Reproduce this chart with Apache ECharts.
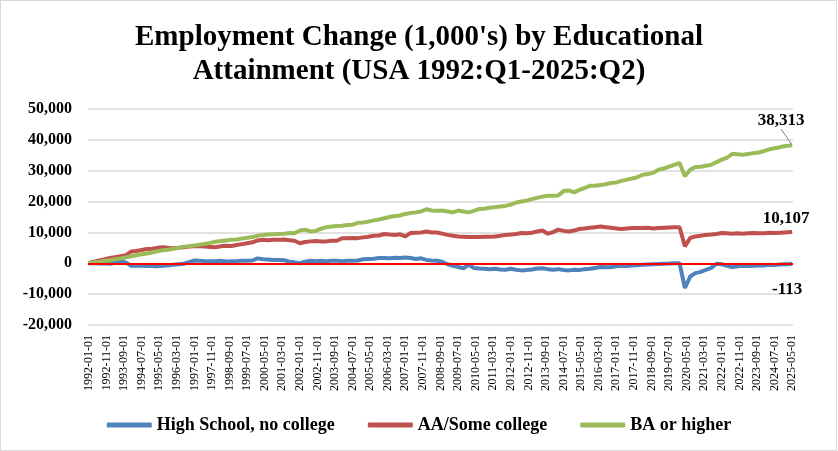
<!DOCTYPE html>
<html>
<head>
<meta charset="utf-8">
<script src="https://cdn.jsdelivr.net/npm/echarts@6/dist/echarts.min.js"></script>
<style>
  html, body { margin: 0; padding: 0; background: #fff; }
  #frame { position: absolute; left: 0; top: 0; width: 837px; height: 451px; box-sizing: border-box; border: 1.5px solid #d9d9d9; pointer-events: none; }
  #chart { position: absolute; left: 0; top: 0; width: 838px; height: 451px; }
</style>
</head>
<body>
<div id="chart"></div>
<div id="frame"></div>
<script>
// ---- Data (employment change, 1,000's), quarterly samples Jan/Apr/Jul/Oct 1992 - 2025, final point 2025-05 ----
const firstYear = 1992;
const lastYear = 2025;
const lastMonth = 5;
const seriesNames = ['High School, no college', 'AA/Some college', 'BA or higher'];

const highSchool = [
  0, 100, -100, 0,
  -150, 200, 600, 300,
  -800, -700, -800, -900,
  -900, -1000, -800, -700,
  -500, -300, -150, 400,
  900, 800, 700, 700,
  700, 800, 600, 700,
  700, 800, 800, 900,
  1600, 1300, 1200, 1100,
  1100, 1000, 500, 300,
  0, 500, 800, 700,
  800, 700, 800, 800,
  700, 800, 800, 900,
  1300, 1400, 1500, 1700,
  1700, 1600, 1800, 1700,
  1900, 1700, 1400, 1600,
  1100, 900, 800, 500,
  -300, -800, -1200, -1600,
  -500, -1500, -1700, -1800,
  -1900, -1800, -2000, -2100,
  -1800, -2100, -2300, -2200,
  -2000, -1700, -1600, -1900,
  -2100, -1900, -2200, -2300,
  -2100, -2200, -1900, -1800,
  -1500, -1200, -1300, -1250,
  -1000, -800, -900, -700,
  -600, -500, -400, -300,
  -200, -150, -100, 0,
  0, -8000, -4300, -3200,
  -2800, -2100, -1500, -150,
  -300, -800, -1250, -1000,
  -800, -900, -800, -700,
  -700, -500, -600, -400,
  -300, -200, -113
];

const someCollege = [
  0, 500, 900, 1300,
  1700, 2000, 2300, 2600,
  3800, 4000, 4300, 4600,
  4700, 5000, 5200, 5000,
  4900, 5000, 5200, 5400,
  5500, 5600, 5400, 5300,
  5200, 5500, 5700, 5600,
  5900, 6200, 6500, 6800,
  7400, 7600, 7500, 7600,
  7600, 7700, 7500, 7300,
  6500, 6900, 7100, 7200,
  7100, 7100, 7300, 7300,
  8100, 8100, 8200, 8150,
  8400, 8600, 8900, 9000,
  9500, 9300, 9200, 9400,
  8700, 9800, 9900, 10000,
  10300, 10000, 10000, 9600,
  9200, 8900, 8700, 8600,
  8500, 8500, 8500, 8600,
  8600, 8700, 8900, 9200,
  9300, 9500, 9800, 9700,
  9900, 10300, 10600, 9600,
  10100, 10900, 10500, 10300,
  10600, 11100, 11300, 11500,
  11700, 11900, 11700, 11500,
  11300, 11100, 11300, 11400,
  11400, 11400, 11500, 11300,
  11400, 11500, 11600, 11700,
  11700, 5500, 8200, 8700,
  8900, 9200, 9300, 9500,
  9800, 9700, 9600, 9700,
  9600, 9700, 9800, 9700,
  9700, 9900, 9800, 9900,
  10000, 10100, 10107
];

const baOrHigher = [
  0, 300, 500, 800,
  1000, 1300, 1600, 1900,
  2300, 2600, 2900, 3200,
  3500, 3900, 4200, 4400,
  4700, 5000, 5400, 5500,
  5800, 6000, 6300, 6600,
  7000, 7200, 7400, 7600,
  7700, 8000, 8300, 8500,
  8900, 9200, 9300, 9400,
  9500, 9600, 9800, 9700,
  10600, 10900, 10300, 10500,
  11200, 11700, 11900, 12100,
  12200, 12400, 12500, 13100,
  13200, 13500, 13900, 14200,
  14600, 15000, 15300, 15500,
  16000, 16300, 16500, 16800,
  17500, 17100, 17000, 17100,
  16800, 16500, 17100, 16800,
  16500, 17000, 17600, 17700,
  18000, 18200, 18400, 18600,
  19000, 19700, 20000, 20300,
  20800, 21200, 21600, 21900,
  21900, 22000, 23400, 23600,
  23000, 23800, 24400, 25100,
  25100, 25400, 25600, 26000,
  26200, 26700, 27100, 27500,
  27900, 28700, 28900, 29300,
  30300, 30700, 31300, 31900,
  32500, 28200, 30300, 31200,
  31300, 31600, 31900, 32800,
  33600, 34200, 35500, 35300,
  35200, 35400, 35700, 35900,
  36400, 36900, 37300, 37600,
  38000, 38200, 38313
];

const yTicks = { min: -20000, max: 50000, interval: 10000 };

// ---- Month categories (tick labels) ----
const months = [];
for (let y = firstYear; y <= lastYear; y++) {
  for (let m = 1; m <= 12; m++) {
    if (y === lastYear && m > lastMonth) break;
    months.push(y + '-' + String(m).padStart(2, '0') + '-01');
  }
}
// sample positions: Jan/Apr/Jul/Oct each year, then the final month
const sampleIdx = [];
for (let i = 0; i < months.length; i += 3) sampleIdx.push(i);
if (sampleIdx[sampleIdx.length - 1] !== months.length - 1) sampleIdx.push(months.length - 1);

const FONT = '"Liberation Serif", "Times New Roman", serif';
const fmt = v => Number(v).toLocaleString('en-US');

function build(values, endLabel) {
  return values.map((v, i) => {
    const item = { value: [sampleIdx[i], v] };
    if (i === values.length - 1) {
      item.symbol = 'circle';
      item.symbolSize = 0.1;
      item.label = Object.assign({
        show: true,
        formatter: p => fmt(p.value[1]),
        fontFamily: FONT, fontWeight: 'bold', fontSize: 17, color: '#000'
      }, endLabel);
    }
    return item;
  });
}

const colors = ['#4F81BD', '#C0504D', '#9BBB59'];

function lineSeries(k, values, endLabel, extra) {
  return Object.assign({
    name: seriesNames[k], type: 'line', z: 3,
    showSymbol: true, showAllSymbol: true, symbol: 'none',
    color: colors[k], lineStyle: { width: 4, color: colors[k] },
    emphasis: { disabled: true },
    data: build(values, endLabel)
  }, extra || {});
}

const chart = echarts.init(document.getElementById('chart'), null, { renderer: 'canvas' });
chart.setOption({
  animation: false,
  backgroundColor: '#ffffff',
  title: {
    text: "Employment Change (1,000's) by Educational\nAttainment (USA 1992:Q1-2025:Q2)",
    left: 'center', top: 16,
    textStyle: { fontFamily: FONT, fontWeight: 'bold', fontSize: 29, lineHeight: 34, color: '#000' }
  },
  legend: {
    data: seriesNames,
    top: 411, left: 'center',
    icon: 'roundRect', itemWidth: 45, itemHeight: 5, itemGap: 33,
    textStyle: { fontFamily: FONT, fontWeight: 'bold', fontSize: 18, color: '#000' }
  },
  grid: { left: 88, right: 45, top: 109, bottom: 126, containLabel: false },
  xAxis: {
    type: 'category',
    data: months,
    boundaryGap: true,
    axisLine: { show: false },
    axisTick: { show: false },
    axisLabel: { interval: 9, rotate: 90, margin: 10, fontFamily: FONT, fontSize: 12, color: '#000' },
    splitLine: { show: false }
  },
  yAxis: {
    type: 'value',
    min: yTicks.min, max: yTicks.max, interval: yTicks.interval,
    axisLine: { show: false },
    axisTick: { show: false },
    axisLabel: { formatter: fmt, margin: 16, fontFamily: FONT, fontWeight: 'bold', fontSize: 16, color: '#000' },
    splitLine: { lineStyle: { color: '#d9d9d9', width: 1.5 } }
  },
  series: [
    {
      name: 'zero', type: 'line', data: [], z: 1, silent: true,
      markLine: {
        silent: true, symbol: 'none', label: { show: false },
        lineStyle: { color: '#FF0000', width: 2, type: 'solid' },
        data: [{ yAxis: 0 }]
      }
    },
    lineSeries(0, highSchool, { position: 'bottom', distance: 17, offset: [-5, 0] }),
    lineSeries(1, someCollege, { position: 'top', distance: 5, offset: [-6, 0] }),
    lineSeries(2, baOrHigher, { position: 'top', distance: 2, padding: [0, 22, 0, 0] }, {
      labelLayout: { dy: -14 },
      labelLine: { show: true, lineStyle: { color: '#808080', width: 1 } }
    })
  ]
});
</script>
</body>
</html>
